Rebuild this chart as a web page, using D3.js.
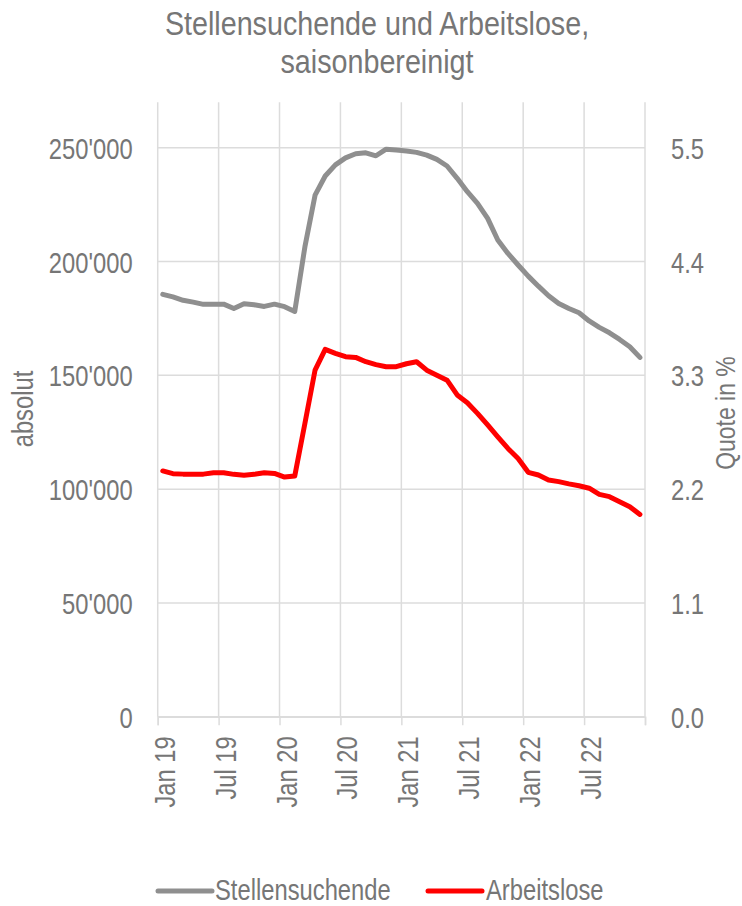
<!DOCTYPE html>
<html>
<head>
<meta charset="UTF-8" />
<title>Stellensuchende und Arbeitslose</title>
<script src="https://d3js.org/d3.v7.min.js"></script>
<style>
	body { margin: 0; background: #fff; }
	svg text { font-family: "Liberation Sans", Arial, sans-serif; fill: #767676; }
</style>
</head>
<body>
<div id="chart"></div>
<script>

// monthly values Jan 19 .. Dec 22
var stellensuchende = [185600, 184500, 183000, 182200, 181200, 181300, 181300, 179400, 181500, 181000, 180300, 181300,
	180200, 178100, 206500, 229200, 237600, 242500, 245600, 247400, 247800, 246500, 249400, 249000,
	248600, 248000, 246800, 244900, 242000, 236600, 230700, 225600, 219000, 209500, 203600, 198500,
	193600, 189200, 185000, 181600, 179400, 177500, 173900, 171100, 168700, 165800, 162600, 157900]
var arbeitslose = [108000, 106800, 106600, 106600, 106600, 107200, 107200, 106500, 106100, 106500, 107200, 106900,
	105300, 105800, 128900, 152300, 161400, 159700, 158200, 157900, 156000, 154700, 153800, 153800,
	155100, 156000, 152300, 150100, 147900, 141400, 138000, 133300, 128200, 123000, 117900, 113500,
	107400, 106200, 104000, 103300, 102300, 101500, 100400, 97700, 96700, 94500, 92300, 88900]
var xLabels = ["Jan 19", "Jul 19", "Jan 20", "Jul 20", "Jan 21", "Jul 21", "Jan 22", "Jul 22"]
var leftTicks = [0, 50000, 100000, 150000, 200000, 250000]
var rightTicks = [0, 1.1, 2.2, 3.3, 4.4, 5.5]
var series = ["Stellensuchende", "Arbeitslose"]
var colors = ["#8f8f8f", "#ff0000"]

var W = 742, H = 906
var plot = {left: 157.7, right: 645, top: 102.3, bottom: 716.7}
var sq = 0.82   // horizontal squeeze, narrow font look

var svg = d3.select("#chart").append("svg")
	.attr("width", W)
	.attr("height", H)

var x = d3.scaleLinear().domain([0, 48]).range([plot.left, plot.right])
var y = d3.scaleLinear().domain([0, 270000]).range([plot.bottom, plot.top])
var y2 = d3.scaleLinear().domain([0, 5.5 * 270000 / 250000]).range([plot.bottom, plot.top])

var fmt = d3.formatLocale({decimal: ".", thousands: "'", grouping: [3], currency: ["", ""]}).format(",")

// gridlines
svg.append("g")
	.selectAll("line")
	.data(d3.range(0, 49, 6))
	.enter().append("line")
		.attr("x1", function(d) { return x(d) })
		.attr("x2", function(d) { return x(d) })
		.attr("y1", plot.top)
		.attr("y2", plot.bottom)
		.attr("stroke", "#dcdcdc")
		.attr("stroke-width", 1.5)
svg.append("g")
	.selectAll("line")
	.data(leftTicks)
	.enter().append("line")
		.attr("x1", plot.left)
		.attr("x2", plot.right)
		.attr("y1", function(d) { return y(d) })
		.attr("y2", function(d) { return y(d) })
		.attr("stroke", "#dcdcdc")
		.attr("stroke-width", 1.5)

// left axis
var gl = svg.append("g")
	.attr("transform", "translate(" + plot.left + ",0)")
	.call(d3.axisLeft(y).tickValues(leftTicks).tickFormat(fmt).tickSize(0))
gl.select(".domain").remove()
gl.selectAll("text")
	.attr("x", -25 / sq)
	.attr("dy", "0.36em")
	.attr("transform", "scale(" + sq + ",1)")
	.style("font-size", "29px")
	.style("font-family", null)

// right axis
var gr = svg.append("g")
	.attr("transform", "translate(" + plot.right + ",0)")
	.call(d3.axisRight(y2).tickValues(rightTicks).tickFormat(d3.format(".1f")).tickSize(0))
gr.select(".domain").remove()
gr.selectAll("text")
	.attr("x", 26 / sq)
	.attr("dy", "0.36em")
	.attr("transform", "scale(" + sq + ",1)")
	.style("font-size", "29px")
	.style("font-family", null)

// bottom axis
var gb = svg.append("g")
	.attr("transform", "translate(0," + plot.bottom + ")")
	.call(d3.axisBottom(x).tickValues(d3.range(0, 49, 6)).tickSize(8.5)
		.tickFormat(function(d) { return xLabels[d / 6] || "" }))
gb.select(".domain").attr("stroke", "#dcdcdc").attr("stroke-width", 1.5)
gb.selectAll(".tick line").attr("stroke", "#dcdcdc").attr("stroke-width", 1.5)
gb.selectAll("text")
	.attr("text-anchor", "end")
	.attr("x", -19.5 / sq)
	.attr("y", 16.5)
	.attr("dy", 0)
	.attr("transform", "rotate(-90) scale(" + sq + ",1)")
	.style("font-size", "29px")
	.style("font-family", null)

// lines
var line = d3.line()
	.x(function(d, i) { return x(i + 0.5) })
	.y(function(d) { return y(d) })
	.curve(d3.curveLinear)

;[stellensuchende, arbeitslose].forEach(function(data, k) {
	svg.append("path")
		.datum(data)
		.attr("fill", "none")
		.attr("stroke", colors[k])
		.attr("stroke-width", 5)
		.attr("stroke-linejoin", "round")
		.attr("stroke-linecap", "round")
		.attr("d", line)
})

// texts
function label(txt, px, py, size, rot, s) {
	s = s || sq
	svg.append("text")
		.attr("transform", "translate(" + px + "," + py + ")" + (rot ? " rotate(" + rot + ")" : "") + " scale(" + s + ",1)")
		.attr("text-anchor", "middle")
		.style("font-size", size + "px")
		.text(txt)
}
label("Stellensuchende und Arbeitslose,", 377, 35, 33, 0, 0.87)
label("saisonbereinigt", 377, 73, 33, 0, 0.87)
label("absolut", 33, 409, 29, -90)
label("Quote in %", 735, 413, 28, -90)

// legend
var leg = [{x: 158, tx: 215}, {x: 428, tx: 486}]
leg.forEach(function(p, k) {
	svg.append("line")
		.attr("x1", p.x).attr("x2", p.x + 54)
		.attr("y1", 891).attr("y2", 891)
		.attr("stroke", colors[k])
		.attr("stroke-width", 5)
		.attr("stroke-linecap", "round")
	svg.append("text")
		.attr("transform", "translate(" + p.tx + ",900) scale(" + sq + ",1)")
		.style("font-size", "29px")
		.text(series[k])
})

</script>
</body>
</html>
